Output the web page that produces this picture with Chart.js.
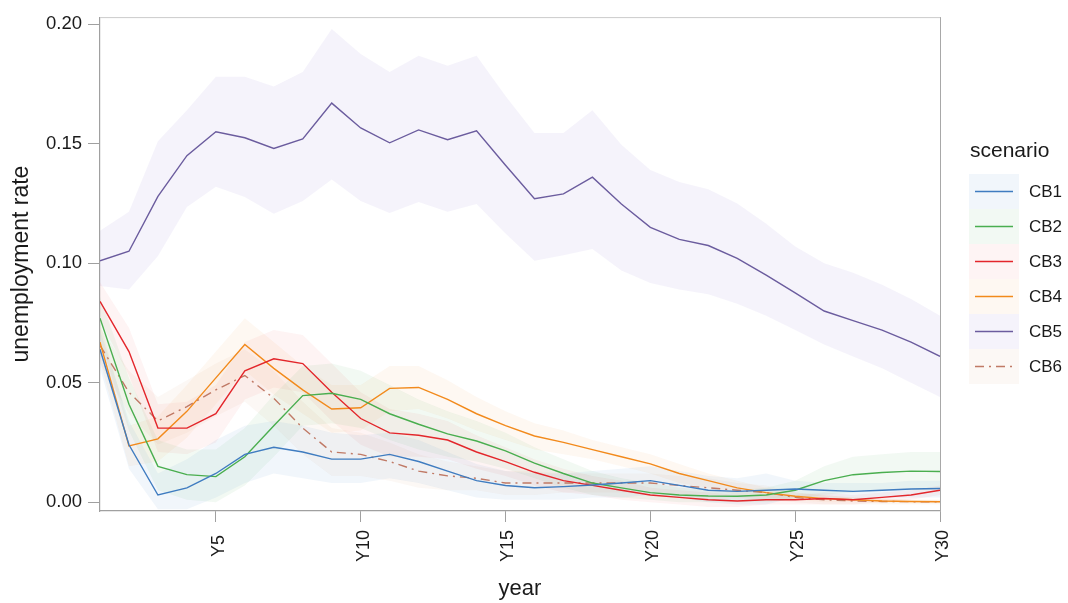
<!DOCTYPE html>
<html><head><meta charset="utf-8">
<script src="https://cdn.jsdelivr.net/npm/chart.js@4/dist/chart.umd.min.js"></script>
<style>html,body{margin:0;padding:0;background:#fff;}#wrap{width:1068px;height:603px;}</style>
</head><body><div id="wrap"><canvas id="c" width="1068" height="603"></canvas></div>
<script>
const years = [1,2,3,4,5,6,7,8,9,10,11,12,13,14,15,16,17,18,19,20,21,22,23,24,25,26,27,28,29,30];
const xTicks = [5,10,15,20,25,30];
const yTicks = [0,0.05,0.10,0.15,0.20];
const seriesNames = ["CB1","CB2","CB3","CB4","CB5","CB6"];

const cb1 = [0.064,0.024,0.003,0.006,0.012,0.020,0.023,0.021,0.018,0.018,0.020,0.017,0.013,0.009,0.007,0.006,0.0065,0.0072,0.008,0.009,0.007,0.005,0.0045,0.005,0.0055,0.005,0.0045,0.005,0.0055,0.0057];
const cb1Hi = [0.072,0.034,0.012,0.018,0.026,0.032,0.034,0.032,0.029,0.028,0.029,0.026,0.021,0.016,0.013,0.012,0.012,0.013,0.014,0.015,0.013,0.011,0.010,0.012,0.009,0.008,0.008,0.008,0.009,0.009];
const cb1Lo = [0.056,0.014,-0.003,-0.003,0.002,0.008,0.012,0.010,0.008,0.008,0.010,0.008,0.005,0.002,0.001,0.001,0.001,0.002,0.002,0.003,0.002,0.000,-0.001,-0.001,0.002,0.002,0.001,0.002,0.002,0.002];

const cb2 = [0.077,0.041,0.015,0.0115,0.0107,0.019,0.032,0.0446,0.0456,0.043,0.037,0.0326,0.0286,0.0256,0.0215,0.0163,0.012,0.008,0.006,0.004,0.003,0.0026,0.0025,0.003,0.005,0.009,0.0115,0.0124,0.013,0.0128];
const cb2Hi = [0.086,0.052,0.026,0.022,0.022,0.031,0.045,0.057,0.058,0.055,0.049,0.043,0.038,0.034,0.029,0.023,0.018,0.013,0.010,0.008,0.006,0.005,0.005,0.006,0.009,0.015,0.019,0.020,0.021,0.021];
const cb2Lo = [0.068,0.030,0.005,0.001,0.000,0.007,0.019,0.032,0.033,0.031,0.026,0.022,0.019,0.017,0.014,0.010,0.006,0.003,0.002,0.001,0.000,0.000,0.000,0.000,0.001,0.003,0.004,0.005,0.005,0.005];

const cb3 = [0.084,0.063,0.031,0.031,0.037,0.055,0.060,0.058,0.046,0.035,0.029,0.028,0.026,0.021,0.017,0.0125,0.009,0.007,0.005,0.003,0.002,0.001,0.0005,0.001,0.001,0.0015,0.001,0.002,0.003,0.005];
const cb3Hi = [0.092,0.073,0.041,0.042,0.049,0.067,0.072,0.070,0.058,0.046,0.039,0.037,0.034,0.028,0.023,0.018,0.014,0.011,0.009,0.006,0.005,0.004,0.003,0.003,0.003,0.004,0.003,0.004,0.005,0.007];
const cb3Lo = [0.076,0.053,0.021,0.020,0.025,0.043,0.048,0.046,0.034,0.024,0.019,0.019,0.018,0.014,0.011,0.007,0.004,0.003,0.001,0.000,-0.001,-0.002,-0.002,-0.001,-0.001,-0.001,-0.001,0.000,0.001,0.003];

const cb4 = [0.067,0.0235,0.0265,0.038,0.052,0.066,0.056,0.047,0.039,0.0395,0.0476,0.048,0.043,0.037,0.032,0.0277,0.025,0.022,0.019,0.016,0.012,0.009,0.006,0.004,0.0025,0.0015,0.001,0.0005,0.0003,0.0002];
const cb4Hi = [0.075,0.032,0.036,0.049,0.063,0.077,0.067,0.057,0.049,0.049,0.057,0.057,0.051,0.044,0.038,0.033,0.030,0.026,0.023,0.020,0.016,0.012,0.009,0.006,0.004,0.003,0.002,0.0015,0.001,0.001];
const cb4Lo = [0.059,0.015,0.017,0.027,0.041,0.055,0.045,0.037,0.029,0.030,0.038,0.039,0.035,0.030,0.026,0.022,0.020,0.018,0.015,0.012,0.008,0.006,0.003,0.002,0.001,0.000,0.000,-0.0005,-0.0005,-0.0005];

const cb5 = [0.101,0.105,0.128,0.145,0.155,0.1525,0.148,0.152,0.167,0.1566,0.1504,0.1558,0.1517,0.1554,0.141,0.127,0.129,0.136,0.1248,0.115,0.110,0.1074,0.102,0.095,0.0876,0.080,0.076,0.072,0.067,0.061];
const cb5Hi = [0.1136,0.1215,0.151,0.164,0.178,0.178,0.174,0.180,0.198,0.1876,0.180,0.1868,0.1826,0.1868,0.170,0.1545,0.1545,0.164,0.1496,0.139,0.134,0.131,0.125,0.1165,0.107,0.100,0.096,0.091,0.085,0.078];
const cb5Lo = [0.0905,0.089,0.103,0.1235,0.132,0.1277,0.1207,0.126,0.135,0.126,0.121,0.1256,0.1215,0.1248,0.1124,0.101,0.1033,0.106,0.097,0.0917,0.089,0.087,0.083,0.078,0.072,0.066,0.061,0.056,0.050,0.044];

const cb6 = [0.0656,0.046,0.034,0.040,0.047,0.053,0.0435,0.031,0.021,0.020,0.017,0.013,0.011,0.010,0.008,0.008,0.008,0.008,0.008,0.008,0.007,0.006,0.005,0.004,0.002,0.001,0.0005,0.0003,0.0002,0.0002];
const cb6Hi = [0.073,0.055,0.044,0.051,0.058,0.064,0.055,0.042,0.031,0.029,0.025,0.020,0.017,0.015,0.013,0.013,0.012,0.012,0.012,0.012,0.011,0.010,0.008,0.007,0.004,0.003,0.002,0.0015,0.001,0.001];
const cb6Lo = [0.058,0.037,0.024,0.029,0.036,0.042,0.032,0.020,0.011,0.011,0.009,0.006,0.005,0.005,0.003,0.003,0.004,0.004,0.004,0.004,0.003,0.002,0.002,0.001,0.000,-0.001,-0.001,-0.001,-0.001,-0.001];

const means = [cb1,cb2,cb3,cb4,cb5,cb6];
const his = [cb1Hi,cb2Hi,cb3Hi,cb4Hi,cb5Hi,cb6Hi];
const los = [cb1Lo,cb2Lo,cb3Lo,cb4Lo,cb5Lo,cb6Lo];
const lineColors = ["#3f7cc0","#4aae4f","#e3262b","#f28a1c","#6b5c9e","#c07a66"];
const bandColors = ["rgba(63,124,192,0.07)","rgba(74,174,79,0.07)","rgba(227,38,43,0.05)","rgba(242,138,28,0.06)","rgba(120,95,200,0.075)","rgba(210,130,90,0.06)"];
const dashes = [[],[],[],[],[],[9,5,2,5]];

const pts = arr => years.map((y,i)=>({x:y,y:arr[i]}));
const datasets = [];
for (let s=0;s<6;s++){
  datasets.push({label:seriesNames[s], data:pts(means[s]), borderColor:lineColors[s], borderWidth:1.4, borderDash:dashes[s], pointRadius:0, fill:false, tension:0, order:0});
}
for (let s=0;s<6;s++){
  const loIdx = datasets.length;
  datasets.push({label:'lo'+s, data:pts(los[s]), borderWidth:0, borderColor:'rgba(0,0,0,0)', pointRadius:0, fill:false, order:1});
  datasets.push({label:'hi'+s, data:pts(his[s]), borderWidth:0, borderColor:'rgba(0,0,0,0)', pointRadius:0, fill:{target:loIdx}, backgroundColor:bandColors[s], order:1});
}

const FONT = "'Liberation Sans', Arial, Helvetica, sans-serif";
const TXT = '#1a1a1a';
const frame = {
  id:'frame',
  afterDatasetsDraw(chart){
    const {ctx, chartArea:a} = chart;
    ctx.save();
    ctx.strokeStyle = '#cccccc'; ctx.lineWidth = 1;
    ctx.beginPath(); ctx.moveTo(a.left, a.top+0.5); ctx.lineTo(a.right, a.top+0.5); ctx.stroke();
    ctx.strokeStyle = '#a8a8a8';
    ctx.beginPath(); ctx.moveTo(a.right+0.5, a.top); ctx.lineTo(a.right+0.5, a.bottom); ctx.stroke();
    ctx.restore();
  },
  afterDraw(chart){
    const ctx = chart.ctx;
    ctx.save();
    // x tick labels, rotated and centred like the reference
    const xs = chart.scales.x;
    ctx.fillStyle = TXT; ctx.font = '18px ' + FONT;
    ctx.textAlign = 'center'; ctx.textBaseline = 'middle';
    xTicks.forEach(v => {
      const px = xs.getPixelForValue(v);
      ctx.save(); ctx.translate(px + 3, 546); ctx.rotate(-Math.PI/2);
      ctx.fillText('Y' + v, 0, 0); ctx.restore();
    });
    // legend
    ctx.fillStyle = TXT;
    ctx.font = '21px ' + FONT;
    ctx.textBaseline = 'middle'; ctx.textAlign = 'left';
    ctx.fillText('scenario', 970, 151);
    const x0 = 969, w = 50, h = 35, y0 = 174;
    for (let s=0;s<6;s++){
      const y = y0 + s*h;
      ctx.fillStyle = '#ffffff'; ctx.fillRect(x0, y, w, h);
      ctx.fillStyle = bandColors[s]; ctx.fillRect(x0, y, w, h);
      ctx.strokeStyle = lineColors[s]; ctx.lineWidth = 1.4;
      ctx.setLineDash(dashes[s]);
      ctx.beginPath(); ctx.moveTo(x0+6, y+h/2); ctx.lineTo(x0+w-6, y+h/2); ctx.stroke();
      ctx.setLineDash([]);
      ctx.fillStyle = TXT; ctx.font = '17px ' + FONT;
      ctx.fillText(seriesNames[s], 1029, y+h/2+1);
    }
    ctx.restore();
  }
};

new Chart(document.getElementById('c'), {
  type:'line',
  data:{datasets},
  plugins:[frame],
  options:{
    responsive:false, animation:false, maintainAspectRatio:false,
    layout:{padding:{left:0,right:128,top:11,bottom:0}},
    plugins:{legend:{display:false}, tooltip:{enabled:false}, filler:{propagate:false}},
    scales:{
      x:{type:'linear', min:1, max:30,
        afterFit(s){ s.height = 92; },
        afterBuildTicks(s){ s.ticks = xTicks.map(v=>({value:v})); },
        ticks:{display:false, autoSkip:false},
        grid:{drawOnChartArea:false, drawTicks:true, tickLength:11, tickColor:'#a0a0a0'},
        border:{display:true, color:'#a0a0a0', width:1.2},
        title:{display:true, text:'year', color:TXT, font:{family:FONT, size:22}, padding:{top:0,bottom:1}}
      },
      y:{type:'linear', min:-0.0037, max:0.2030,
        afterFit(s){ s.width = 100; },
        afterBuildTicks(s){ s.ticks = yTicks.map(v=>({value:v})); },
        ticks:{padding:6, color:TXT, font:{family:FONT, size:18.5}, callback:v=>Number(v).toFixed(2)},
        grid:{drawOnChartArea:false, drawTicks:true, tickLength:12, tickColor:'#a0a0a0'},
        border:{display:true, color:'#a0a0a0', width:1.2},
        title:{display:true, text:'unemployment rate', color:TXT, font:{family:FONT, size:23}, padding:{top:8,bottom:0}}
      }
    }
  }
});
</script></body></html>
